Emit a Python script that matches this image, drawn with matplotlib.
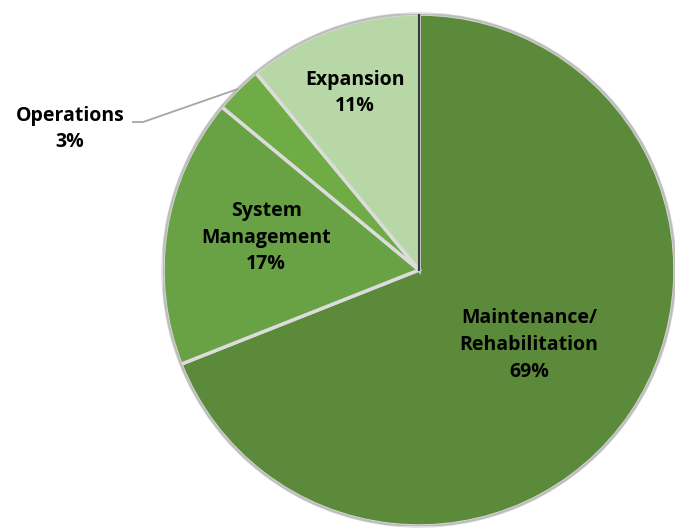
import matplotlib.pyplot as plt
import numpy as np

categories = ['Maintenance/\nRehabilitation', 'System\nManagement', 'Operations', 'Expansion']
shares = [69, 17, 3, 11]
colors = ['#5a8a3a', '#68a244', '#6fac46', '#b8d7a6']

plt.rcParams['font.family'] = ['Open Sans', 'DejaVu Sans']

fig = plt.figure(figsize=(6.75, 5.29), dpi=100)
r_px = 256
cx, cy = 419, 270
ax = fig.add_axes([(cx - r_px) / 675, (529 - cy - r_px) / 529, 2 * r_px / 675, 2 * r_px / 529])

wedges, _ = ax.pie(shares, colors=colors, startangle=90, counterclock=False,
                   wedgeprops=dict(edgecolor='#dcdcdc', linewidth=2.5))
# thin grey rim
ax.add_patch(plt.Circle((0, 0), 1.0, fill=False, edgecolor='#bdbdbd', lw=1.5))
# dark shadow seam between Expansion and Maintenance
a0 = np.deg2rad(wedges[0].theta2)
ax.plot([0, np.cos(a0)], [0, np.sin(a0)], color='#3a3a3a', lw=1.6)
ax.set_xlim(-1, 1)
ax.set_ylim(-1, 1)
ax.set_aspect('equal')
ax.axis('off')

radii = [0.52, 0.61, None, 0.735]
nudge = [0, -3, 0, 0]
for w, lab, val, rr, dn in zip(wedges, categories, shares, radii, nudge):
    mid = np.deg2rad((w.theta1 + w.theta2) / 2)
    txt = f'{lab}\n{val}%'
    if rr is None:
        # leader line: wedge rim -> knee -> label
        ax.plot([1.0 * np.cos(mid), -1.078, -1.121], [1.0 * np.sin(mid), 0.578, 0.578],
                color='#a6a6a6', lw=1.3, clip_on=False, solid_capstyle='butt')
        ax.text(-1.363, 0.551, txt, ha='center', va='center', fontsize=14,
                fontweight='bold', linespacing=1.45)
    else:
        a = mid + np.deg2rad(dn)
        ax.text(rr * np.cos(a), rr * np.sin(a), txt, ha='center', va='center',
                fontsize=14, fontweight='bold', linespacing=1.45)

fig.savefig('out.png', dpi=100)
